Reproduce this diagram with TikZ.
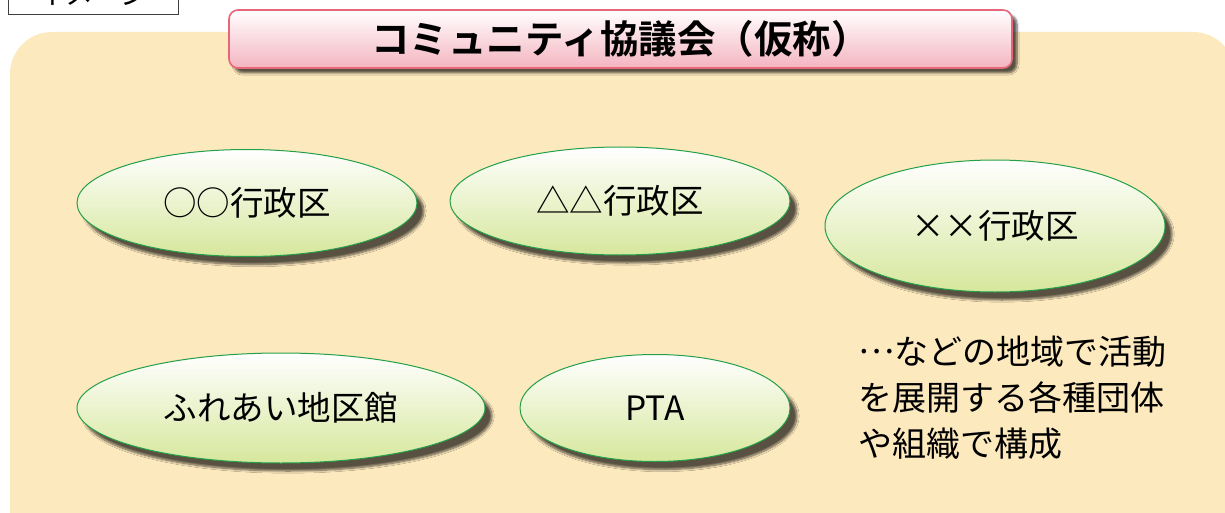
\documentclass[tikz,border=0pt]{standalone}
\usepackage{fontspec}
\setmainfont{Noto Sans CJK JP}
\newfontfamily\jpbold{Noto Sans CJK JP Bold}
\usetikzlibrary{shapes.geometric,shadows.blur}
\definecolor{bgcream}{HTML}{FDE9BE}
\definecolor{pinkline}{HTML}{E8667A}
\definecolor{pinkfill}{HTML}{F4B4C0}
\definecolor{greenline}{HTML}{24A048}
\definecolor{greenfill}{HTML}{D6E79C}
\tikzset{
  region/.style={ellipse, draw=greenline, line width=1pt, top color=white, bottom color=greenfill,
    inner sep=0pt, font=\fontsize{33.5}{33.5}\selectfont,
    blur shadow={shadow xshift=7pt, shadow yshift=-8pt, shadow blur steps=8, shadow opacity=65}},
  titlebox/.style={draw=pinkline, line width=1.6pt, rounded corners=9pt, top color=white, bottom color=pinkfill,
    minimum width=783pt, minimum height=58pt, inner sep=0pt, font=\jpbold\fontsize{38.5}{38.5}\selectfont,
    blur shadow={shadow xshift=5pt, shadow yshift=-5pt, shadow blur steps=6, shadow opacity=65}},
  tagbox/.style={draw=black!75, line width=0.8pt, fill=white, minimum width=170pt, minimum height=40pt, inner sep=0pt,
    font=\fontsize{28}{28}\selectfont},
  note/.style={align=left, anchor=north west, inner sep=0pt, font=\fontsize{34}{46}\selectfont}
}
\begin{document}
\begin{tikzpicture}[x=1pt,y=-1pt]
\useasboundingbox (0,0) rectangle (1225,513);
\begin{scope}
\clip (0,0) rectangle (1225,513);
\node[tagbox] (tag) at (93,-6) {イメージ};
\fill[bgcream] (10,32) [rounded corners=42pt] -- (10,560) -- (1235,560) -- (1235,32) -- cycle;
\end{scope}
\node[titlebox] (title) at (620.5,39) {コミュニティ協議会（仮称）};
\node[region, minimum width=340pt, minimum height=107pt] (r1) at (247,203) {○○行政区};
\node[region, minimum width=340pt, minimum height=108pt] (r2) at (620,201) {△△行政区};
\node[region, minimum width=340pt, minimum height=132pt] (r3) at (995,226) {××行政区};
\node[region, minimum width=408pt, minimum height=110pt] (r4) at (281,408) {ふれあい地区館};
\node[region, minimum width=270pt, minimum height=107pt] (r5) at (655,408) {PTA};
\node[note] (txt) at (858,336) {\raisebox{0.33em}{…}などの地域で活動\\を展開する各種団体\\や組織で構成};
\end{tikzpicture}
\end{document}
